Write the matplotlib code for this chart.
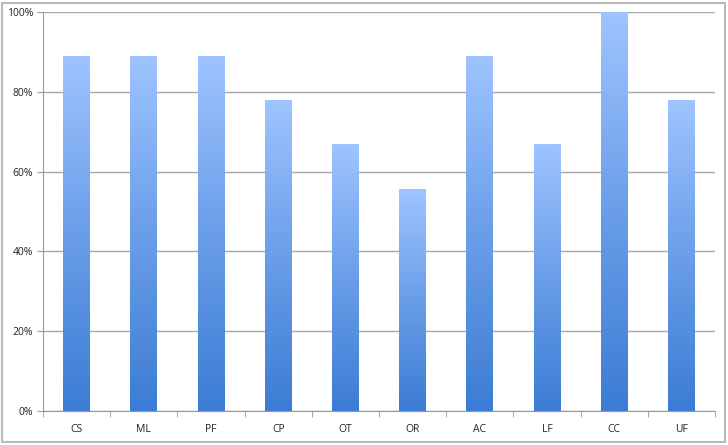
import matplotlib
matplotlib.use("Agg")
import matplotlib.pyplot as plt
import numpy as np
from matplotlib.colors import LinearSegmentedColormap
from matplotlib.ticker import FuncFormatter, FixedLocator
from matplotlib.patches import Rectangle

categories = ["CS", "ML", "PF", "CP", "OT", "OR", "AC", "LF", "CC", "UF"]
values = [0.889, 0.889, 0.889, 0.778, 0.667, 0.556, 0.889, 0.667, 1.0, 0.778]
yticks = [0, 0.2, 0.4, 0.6, 0.8, 1.0]

plt.rcParams['font.family'] = ['Open Sans', 'DejaVu Sans']

fig = plt.figure(figsize=(7.28, 4.45), dpi=100)
ax = fig.add_axes([43/728, 1-411/445, (715-43)/728, (411-12)/445])

cmap = LinearSegmentedColormap.from_list("g", ["#3C7CD4", "#6A9EE9", "#9FC4FF"])
x = np.arange(len(categories))
width = 0.4
bars = ax.bar(x, values, width=width, color="none", edgecolor="none", zorder=3)
grad = np.linspace(0, 1, 256).reshape(-1, 1)
for b in bars:
    x0, y0 = b.get_x(), b.get_y()
    w, h = b.get_width(), b.get_height()
    ax.imshow(grad, cmap=cmap, origin="lower", aspect="auto",
              extent=(x0, x0 + w, y0, y0 + h), zorder=3)

ax.set_xlim(-0.5, len(categories) - 0.5)
ax.set_ylim(0, 1.0)
ax.set_yticks(yticks)
ax.yaxis.set_major_formatter(FuncFormatter(lambda v, p: f"{int(round(v*100))}%"))
ax.grid(axis="y", color="#A8A8A8", linewidth=1.0, zorder=1)
ax.set_axisbelow(True)

ax.set_xticks(x)
ax.set_xticklabels(categories)
ax.xaxis.set_minor_locator(FixedLocator(np.arange(-0.5, len(categories), 1.0)))
ax.tick_params(axis="x", which="major", length=0, pad=9, labelsize=7.5, colors="#222222")
ax.tick_params(axis="x", which="minor", length=4, color="#999999", direction="out")
ax.tick_params(axis="y", length=4, color="#999999", labelsize=7.5, labelcolor="#222222", pad=3)

for s in ["top", "right"]:
    ax.spines[s].set_visible(False)
ax.spines["left"].set_color("#999999")
ax.spines["bottom"].set_color("#999999")

fig.patches.append(Rectangle((2/728, 3/445), 723/728, 439/445, transform=fig.transFigure,
                             fill=False, edgecolor="#BBBBBB", linewidth=1.5))

fig.savefig("out.png", dpi=100)
